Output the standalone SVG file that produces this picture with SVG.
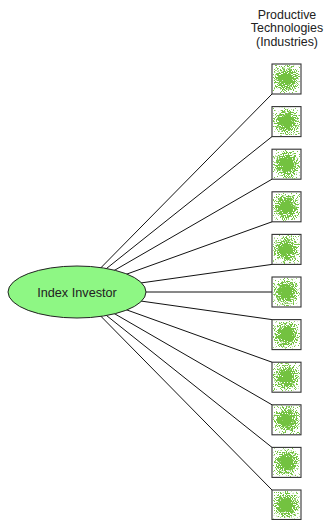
<svg xmlns="http://www.w3.org/2000/svg" width="328" height="520" viewBox="0 0 328 520">
<style>
text{font-family:"Liberation Sans",Arial,sans-serif;fill:#222}
.t{font-size:12.4px;text-anchor:middle}
.lbl{font-size:12.7px;text-anchor:middle}
.box{fill:#fff;stroke:#333;stroke-width:1.1}
.tex{fill:url(#rg);filter:url(#speck)}
#conn line{stroke:#111;stroke-width:1}
</style>
<defs>
<radialGradient id="rg" cx="0.5" cy="0.5" r="0.55">
<stop offset="0" stop-color="#000" stop-opacity="0.72"/>
<stop offset="0.45" stop-color="#000" stop-opacity="0.35"/>
<stop offset="1" stop-color="#000" stop-opacity="0.08"/>
</radialGradient>
<filter id="speck" x="0" y="0" width="1" height="1" color-interpolation-filters="sRGB">
<feTurbulence type="fractalNoise" baseFrequency="0.9" numOctaves="2" seed="7" result="n"/>
<feColorMatrix in="n" type="matrix" values="0 0 0 0 0  0 0 0 0 0  0 0 0 0 0  1 0 0 0 0" result="na"/>
<feComposite in="na" in2="SourceGraphic" operator="arithmetic" k1="0" k2="1" k3="1" k4="0" result="sum"/>
<feColorMatrix in="sum" type="matrix" values="0 0 0 0 0.45  0 0 0 0 0.76  0 0 0 0 0.25  0 0 0 12 -8.2"/>
</filter>
</defs>
<rect width="328" height="520" fill="#fff"/>
<g id="title">
<text class="t" x="287" y="18.5">Productive</text>
<text class="t" x="287" y="32">Technologies</text>
<text class="t" x="287" y="45.5">(Industries)</text>
</g>
<g id="conn">
<line x1="77" y1="292" x2="272" y2="94"/>
<line x1="77" y1="292" x2="272" y2="136.6"/>
<line x1="77" y1="292" x2="272" y2="179.2"/>
<line x1="77" y1="292" x2="272" y2="221.8"/>
<line x1="77" y1="292" x2="272" y2="264.4"/>
<line x1="77" y1="292" x2="272" y2="292"/>
<line x1="77" y1="292" x2="272" y2="319.6"/>
<line x1="77" y1="292" x2="272" y2="362.2"/>
<line x1="77" y1="292" x2="272" y2="404.8"/>
<line x1="77" y1="292" x2="272" y2="447.4"/>
<line x1="77" y1="292" x2="272" y2="490"/>
</g>
<g id="investor">
<ellipse cx="77" cy="292" rx="69" ry="26" fill="#8ef784" stroke="#222" stroke-width="1"/>
<text class="lbl" x="77" y="296.5">Index Investor</text>
</g>
<g id="ind1"><rect class="box" x="272" y="64" width="29" height="30"/><rect class="tex" x="273" y="65" width="27" height="28"/></g>
<g id="ind2"><rect class="box" x="272" y="106.6" width="29" height="30"/><rect class="tex" x="273" y="107.6" width="27" height="28"/></g>
<g id="ind3"><rect class="box" x="272" y="149.2" width="29" height="30"/><rect class="tex" x="273" y="150.2" width="27" height="28"/></g>
<g id="ind4"><rect class="box" x="272" y="191.8" width="29" height="30"/><rect class="tex" x="273" y="192.8" width="27" height="28"/></g>
<g id="ind5"><rect class="box" x="272" y="234.4" width="29" height="30"/><rect class="tex" x="273" y="235.4" width="27" height="28"/></g>
<g id="ind6"><rect class="box" x="272" y="277" width="29" height="30"/><rect class="tex" x="273" y="278" width="27" height="28"/></g>
<g id="ind7"><rect class="box" x="272" y="319.6" width="29" height="30"/><rect class="tex" x="273" y="320.6" width="27" height="28"/></g>
<g id="ind8"><rect class="box" x="272" y="362.2" width="29" height="30"/><rect class="tex" x="273" y="363.2" width="27" height="28"/></g>
<g id="ind9"><rect class="box" x="272" y="404.8" width="29" height="30"/><rect class="tex" x="273" y="405.8" width="27" height="28"/></g>
<g id="ind10"><rect class="box" x="272" y="447.4" width="29" height="30"/><rect class="tex" x="273" y="448.4" width="27" height="28"/></g>
<g id="ind11"><rect class="box" x="272" y="490" width="29" height="29.5"/><rect class="tex" x="273" y="491" width="27" height="27.5"/></g>
</svg>
